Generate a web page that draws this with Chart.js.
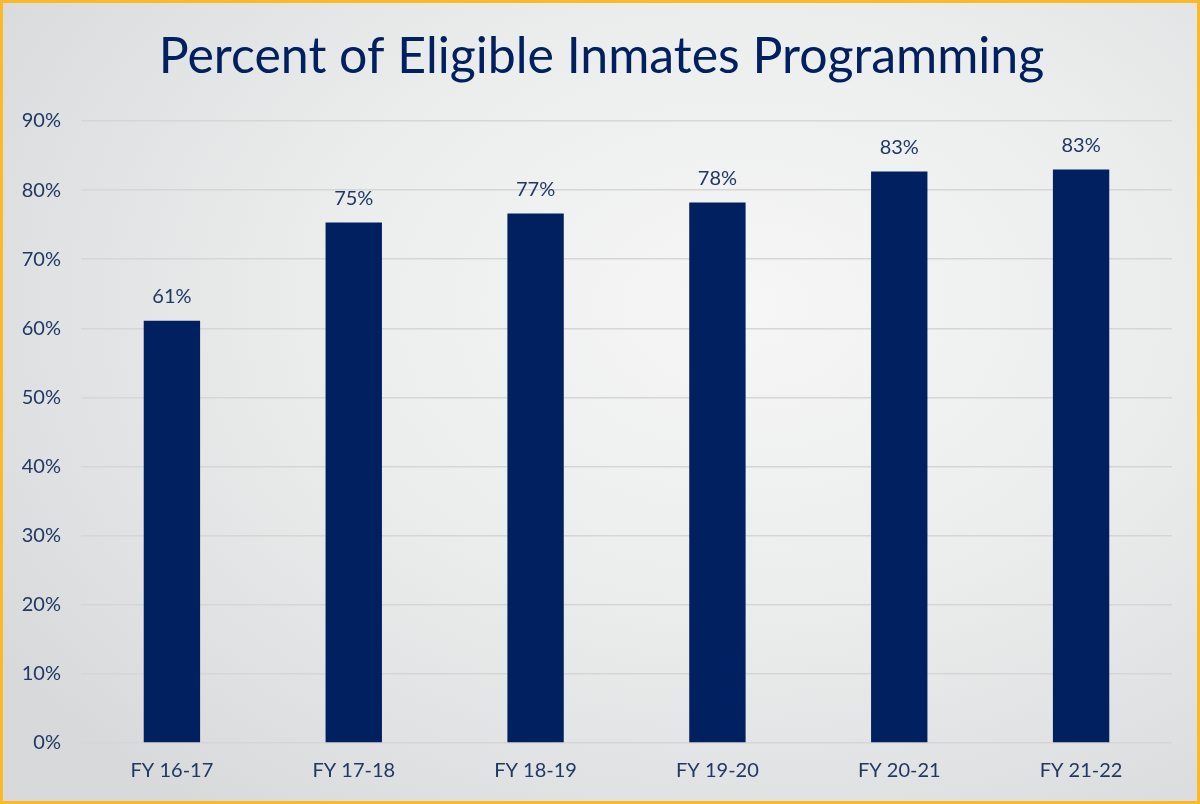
<!DOCTYPE html>
<html>
<head>
<meta charset="utf-8">
<script src="https://cdn.jsdelivr.net/npm/chart.js@4/dist/chart.umd.min.js"></script>
<style>
html,body{margin:0;padding:0;}
#wrap{position:absolute;left:0;top:0;width:1200px;height:804px;box-sizing:border-box;border:3px solid #FBB829;
background:radial-gradient(ellipse 75% 80% at 62% 38%, #f6f6f6 0%, #eceded 45%, #dedfe0 85%, #d8d9da 100%);}
#c{display:block;}
</style>
</head>
<body>
<div id="wrap"><canvas id="c" width="1194" height="798"></canvas></div>
<script>
const titleText = "Percent of Eligible Inmates Programming";
const categories = ["FY 16-17","FY 17-18","FY 18-19","FY 19-20","FY 20-21","FY 21-22"];
const values = [61.1, 75.3, 76.6, 78.2, 82.7, 83.0];
const yTicks = [0,10,20,30,40,50,60,70,80,90];

const FONT = "Lato, 'Open Sans', sans-serif";

const labelPlugin = {
  id:'barLabels',
  afterDatasetsDraw(chart){
    const ctx = chart.ctx;
    const meta = chart.getDatasetMeta(0);
    ctx.save();
    ctx.font = "20px " + FONT;
    ctx.fillStyle = "#1f3864";
    ctx.textAlign = "center";
    ctx.textBaseline = "middle";
    meta.data.forEach((bar,i)=>{
      ctx.fillText(Math.round(values[i]) + "%", bar.x, bar.y - 24);
    });
    ctx.restore();
  }
};

new Chart(document.getElementById('c'), {
  type:'bar',
  data:{
    labels:categories,
    datasets:[{data:values, backgroundColor:"#002060", borderWidth:0, categoryPercentage:1, barPercentage:0.31}]
  },
  options:{
    responsive:false,
    animation:false,
    layout:{padding:{left:3,right:0,top:0,bottom:2}},
    plugins:{
      legend:{display:false},
      tooltip:{enabled:false},
      title:{display:true,text:titleText,color:"#002060",
        font:{family:FONT,size:50,weight:'normal'},padding:{top:24,bottom:34}}
    },
    scales:{
      x:{grid:{display:false,drawTicks:false},border:{display:false},
        ticks:{color:"#1f3864",font:{family:FONT,size:20},padding:16}},
      y:{min:0,max:90,afterFit(s){s.width=75;},
        afterBuildTicks(s){s.ticks=yTicks.map(v=>({value:v}));},
        grid:{color:"#d6d6d6",lineWidth:1.5,drawTicks:false},border:{display:false},
        ticks:{color:"#1f3864",font:{family:FONT,size:20},padding:20,callback:v=>v+"%"}},
      yRight:{position:'right',display:true,min:0,max:90,afterFit(s){s.width=25;},
        grid:{display:false,drawTicks:false},border:{display:false},ticks:{display:false}}
    }
  },
  plugins:[labelPlugin]
});
</script>
</body>
</html>
